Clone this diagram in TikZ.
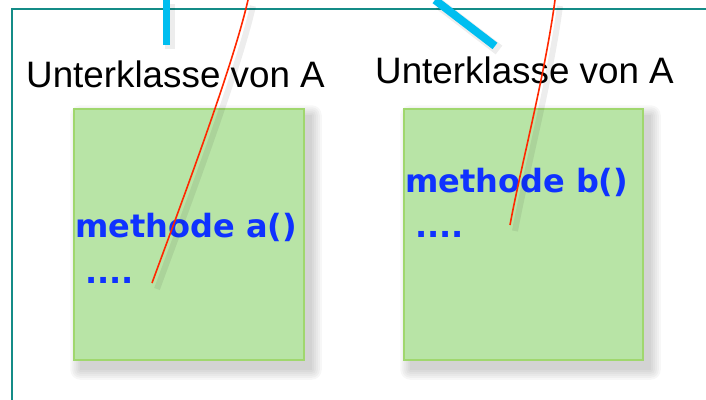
\documentclass[tikz,border=0pt]{standalone}
\usepackage{fontspec}
\setmainfont{Liberation Sans}
\newfontfamily\methfont{DejaVu Sans}
\definecolor{frameteal}{RGB}{20,140,135}
\definecolor{boxfill}{RGB}{184,228,166}
\definecolor{boxdraw}{RGB}{160,215,110}
\definecolor{methblue}{RGB}{15,50,255}
\definecolor{linecyan}{RGB}{0,190,240}
\definecolor{curvered}{RGB}{255,40,0}
\pgfdeclarelayer{background}
\pgfsetlayers{background,main}
\tikzset{
  classbox/.style={draw=boxdraw, line width=1.5pt, fill=boxfill, inner sep=0pt, minimum height=251pt},
  subtitle/.style={anchor=base west, inner sep=0pt, font=\fontsize{36.8}{37}\selectfont},
  methtext/.style={anchor=base west, inner sep=0pt, text=methblue, font=\methfont\bfseries\fontsize{32}{32}\selectfont},
  cyanline/.style={linecyan, line width=7pt},
  redcurve/.style={curvered, line width=1.6pt},
  lineshadow/.style={black, opacity=0.07}
}
\begin{document}
\begin{tikzpicture}[x=1pt,y=-1pt]
\useasboundingbox (0,0) rectangle (706,399);
% frame
\draw[frameteal, line width=2pt] (12,420) -- (12,9) -- (720,9);
% boxes
\node[classbox, minimum width=230pt] (boxa) at (189,234.5) {};
\node[classbox, minimum width=239pt] (boxb) at (523.5,234.5) {};
\begin{pgfonlayer}{background}
  \foreach \i in {0,2,...,10}{
    \fill[black, opacity=0.03, rounded corners=\i pt]
      ([shift={(7-\i,7-\i)}]boxa.north west) rectangle ([shift={(7+\i,9+\i)}]boxa.south east);
    \fill[black, opacity=0.03, rounded corners=\i pt]
      ([shift={(7-\i,7-\i)}]boxb.north west) rectangle ([shift={(7+\i,9+\i)}]boxb.south east);
  }
\end{pgfonlayer}
% titles
\node[subtitle] (ta) at (26,87) {Unterklasse von A};
\node[subtitle] (tb) at (375,83) {Unterklasse von A};
% methods
\node[methtext] (ma) at (75,237) {methode a()};
\node[methtext] (da) at (85,283) {....};
\node[methtext] (mb) at (405,192) {methode b()};
\node[methtext] (db) at (415,237) {....};
% cyan lines
\coordinate (c1a) at (166,0);
\coordinate (c1b) at (166,45);
\coordinate (c2a) at (435,0);
\coordinate (c2b) at (495,46);
\draw[lineshadow, line width=10pt] ([shift={(4,4)}]c1a) -- ([shift={(4,4)}]c1b);
\draw[lineshadow, line width=11pt] ([shift={(4,4)}]c2a) -- ([shift={(4,4)}]c2b);
\draw[cyanline] (c1a) -- (c1b);
\draw[cyanline, line width=8pt] (c2a) -- (c2b);
% red curves
\coordinate (r1a) at (248,0);
\coordinate (r1b) at (152,283);
\coordinate (r2a) at (555,0);
\coordinate (r2b) at (510,225);
\draw[lineshadow, line width=6pt] ([shift={(5,6)}]r1a) .. controls (237,76) and (180,226) .. ([shift={(5,6)}]r1b);
\draw[lineshadow, line width=6pt] ([shift={(5,6)}]r2a) .. controls (550,81) and (525,176) .. ([shift={(5,6)}]r2b);
\draw[redcurve] (r1a) .. controls (232,70) and (175,220) .. (r1b);
\draw[redcurve] (r2a) .. controls (545,75) and (520,170) .. (r2b);
\end{tikzpicture}
\end{document}
